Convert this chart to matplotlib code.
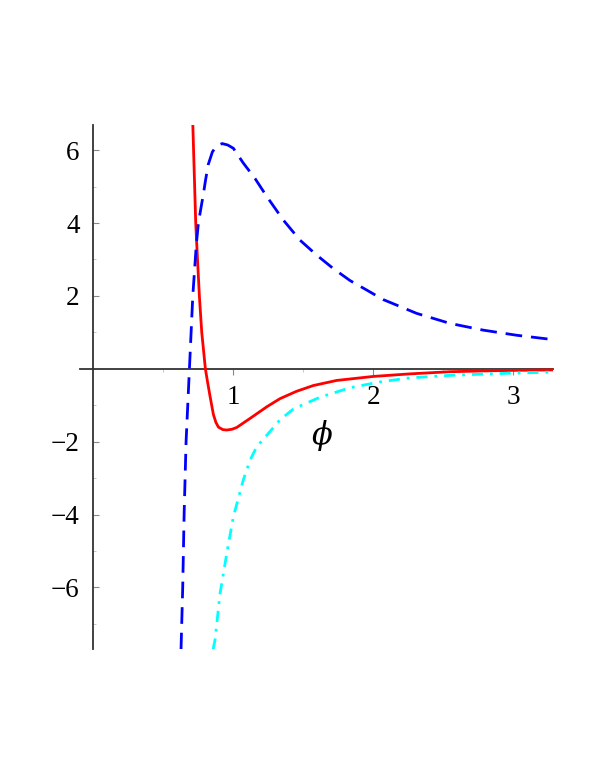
import matplotlib
matplotlib.use("Agg")
import matplotlib.pyplot as plt
from matplotlib.ticker import MultipleLocator

plt.rcParams["font.family"] = ["Liberation Serif", "DejaVu Serif"]
plt.rcParams["mathtext.fontset"] = "dejavuserif"
plt.rcParams["axes.unicode_minus"] = True

# blue dashed curve
blue_x = [0.626, 0.638, 0.648, 0.662, 0.686, 0.710, 0.735, 0.750, 0.770, 0.786,
          0.800, 0.820, 0.850, 0.880, 0.920, 0.960, 1.000, 1.070, 1.155, 1.240,
          1.357, 1.476, 1.595, 1.714, 1.834, 1.953, 2.070, 2.310, 2.548, 2.786,
          3.024, 3.285]
blue_y = [-7.7, -6.0, -4.0, -2.0, 0.0, 2.0, 3.4, 4.0, 4.45, 4.8,
          5.15, 5.6, 5.95, 6.12, 6.18, 6.14, 6.05, 5.65, 5.22, 4.72,
          4.08, 3.53, 3.12, 2.75, 2.42, 2.16, 1.90, 1.52, 1.245, 1.06,
          0.92, 0.80]

# red solid curve
red_x = [0.710, 0.731, 0.738, 0.757, 0.774, 0.800, 0.815, 0.834, 0.857, 0.875,
         0.893, 0.925, 0.953, 0.990, 1.024, 1.120, 1.240, 1.333, 1.450, 1.571,
         1.738, 2.000, 2.260, 2.550, 2.900, 3.285]
red_y = [6.73, 4.0, 3.44, 2.0, 1.0, 0.0, -0.35, -0.77, -1.25, -1.47,
         -1.6, -1.67, -1.68, -1.66, -1.61, -1.36, -1.04, -0.82, -0.62, -0.46,
         -0.32, -0.21, -0.14, -0.08, -0.05, -0.03]

# cyan dash-dot curve
cyan_x = [0.855, 0.869, 0.905, 0.953, 1.000, 1.071, 1.120, 1.167, 1.262, 1.333,
          1.430, 1.619, 1.834, 2.048, 2.260, 2.550, 2.900, 3.285]
cyan_y = [-7.7, -7.44, -6.16, -5.06, -4.06, -3.05, -2.50, -2.14, -1.72, -1.40,
          -1.10, -0.78, -0.52, -0.36, -0.25, -0.18, -0.13, -0.09]

x_ticks = [1, 2, 3]
y_ticks = [-6, -4, -2, 2, 4, 6]

fig = plt.figure(figsize=(5.98, 7.74), dpi=100)
ax = fig.add_axes([0.134, 0.161, 0.791, 0.678])

ax.plot(red_x, red_y, color="#ff0000", lw=2.0, zorder=3)
ax.plot(blue_x, blue_y, color="#0000ff", lw=2.0, dashes=(6, 3.2), zorder=3)
ax.plot(cyan_x, cyan_y, color="#00ffff", lw=2.0, dashes=(4, 2.5, 1, 2.5), zorder=3)

ax.set_xlim(-0.095, 3.285)
ax.set_ylim(-7.7, 6.7)

for side in ("top", "right"):
    ax.spines[side].set_visible(False)
ax.spines["left"].set_position(("data", 0))
ax.spines["bottom"].set_position(("data", 0))
for side in ("left", "bottom"):
    ax.spines[side].set_color("#333333")
    ax.spines[side].set_linewidth(1.3)
    ax.spines[side].set_zorder(2)

ax.set_xticks(x_ticks)
ax.set_yticks(y_ticks)
ax.xaxis.set_minor_locator(MultipleLocator(0.5))
ax.yaxis.set_minor_locator(MultipleLocator(1))
ax.tick_params(axis="x", which="major", direction="out", length=4, width=0.8,
               color="#888888", labelsize=19.5, pad=8)
ax.tick_params(axis="y", which="major", direction="in", length=4, width=0.8,
               color="#888888", labelsize=19.5, pad=10)
ax.tick_params(which="minor", length=2.5, width=0.6, color="#bbbbbb")
ax.tick_params(axis="x", which="minor", direction="out")
ax.tick_params(axis="y", which="minor", direction="in")

ax.text(1.634, -1.82, r"$\phi$", fontsize=22, ha="center", va="center")

fig.savefig("out.png", dpi=100)
